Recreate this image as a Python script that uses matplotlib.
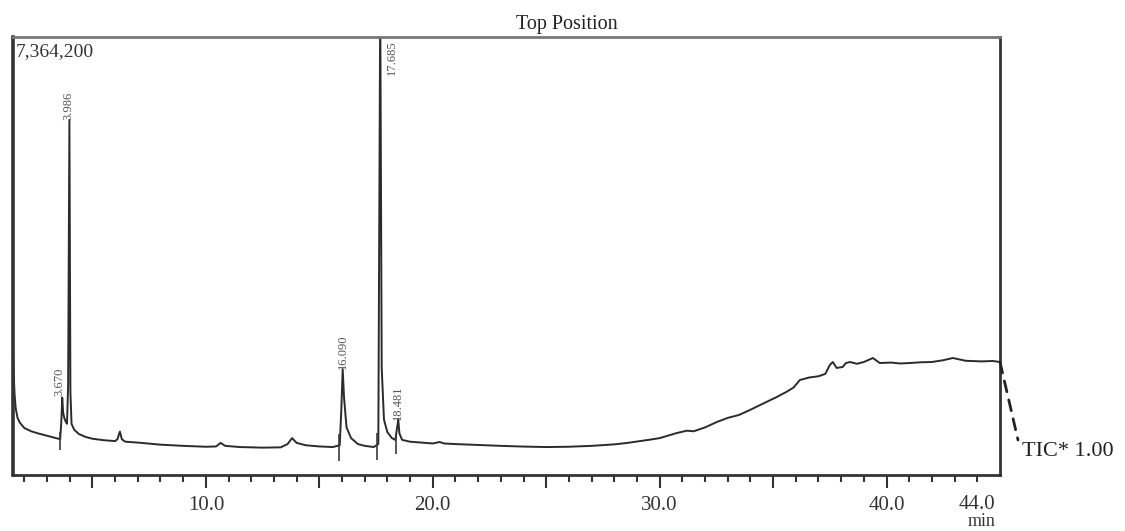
import matplotlib
matplotlib.use("Agg")
import matplotlib.pyplot as plt
from matplotlib.transforms import blended_transform_factory

plt.rcParams['font.family'] = ['Liberation Serif', 'DejaVu Serif']

# ---- data (intensity in kilo-counts) ----
times = [1.50, 1.53, 1.57, 1.62, 1.70, 1.80, 2.00, 2.30, 2.60, 3.00, 3.30, 3.50,
         3.58, 3.63, 3.67, 3.71, 3.76, 3.82, 3.88, 3.93, 3.986, 4.03, 4.08, 4.20,
         4.40, 4.70, 5.00, 5.50, 6.00, 6.10, 6.21, 6.30, 6.45, 7.00, 8.00, 9.00,
         10.00, 10.45, 10.65, 10.85, 11.50, 12.50, 13.30, 13.60, 13.80, 14.00, 14.40,
         15.00, 15.60, 15.90, 15.97, 16.03, 16.09, 16.20, 16.40, 16.70, 17.00, 17.40,
         17.60, 17.685, 17.75, 17.85, 18.00, 18.20, 18.35, 18.43, 18.48, 18.53, 18.65,
         19.00, 19.50, 20.00, 20.30, 20.50, 21.00, 22.00, 23.00, 24.00, 25.00, 26.00,
         27.00, 28.00, 28.55, 29.50, 30.00, 30.76, 31.20, 31.50, 32.00, 32.52, 33.00,
         33.50, 33.98, 34.50, 35.16, 35.60, 35.90, 36.18, 36.60, 37.00, 37.30, 37.50,
         37.63, 37.80, 38.07, 38.20, 38.38, 38.70, 39.00, 39.40, 39.70, 40.20, 40.60,
         41.03, 41.50, 42.00, 42.50, 42.92, 43.50, 44.20, 44.68, 45.00]
intensity = [2190, 1700, 1350, 1120, 960, 880, 790, 735, 700, 660, 630, 610,
             600, 900, 1300, 1050, 960, 900, 860, 1500, 5970, 1400, 860, 760,
             690, 640, 610, 585, 570, 600, 730, 600, 560, 545, 510, 490,
             475, 480, 540, 490, 470, 460, 465, 520, 620, 540, 500,
             480, 470, 500, 1100, 1780, 1300, 800, 620, 520, 490, 470,
             520, 8000, 1800, 930, 720, 620, 590, 800, 930, 700, 590,
             560, 545, 530, 555, 530, 520, 505, 490, 478, 470, 475,
             490, 515, 538, 590, 620, 706, 745, 735, 800, 891, 960,
             1010, 1093, 1190, 1311, 1400, 1470, 1597, 1640, 1660, 1700, 1850,
             1900, 1800, 1816, 1880, 1900, 1870, 1900, 1967, 1883, 1890, 1875,
             1883, 1895, 1900, 1930, 1967, 1920, 1910, 1917, 1900]

peak_times = [3.670, 3.986, 16.050, 17.685, 18.481]
peak_labels = ["3.670", "3.986", "16.090", "17.685", "18.481"]
peak_label_y = [1330, 5970, 1780, 7300, 930]
peak_label_dx = [-0.12, -0.06, 0.0, 0.50, 0.0]
peak_label_va = ["bottom", "bottom", "bottom", "top", "bottom"]

marker_times = [3.57, 15.85, 17.56, 18.38]
marker_bottom = [420, 230, 250, 360]
marker_top = [720, 690, 700, 680]

full_scale = 7364.2
x_min, x_max = 1.5, 45.0
major_ticks = [5, 10, 15, 20, 25, 30, 35, 40]
major_labels = ["", "10.0", "", "20.0", "", "30.0", "", "40.0"]
minor_ticks = list(range(2, 45))

fig = plt.figure(figsize=(11.25, 5.31), dpi=100)
ax = fig.add_axes([13/1125, 1-475/531, (1000-13)/1125, (475-37)/531])

ax.plot(times, intensity, color='#2b2b2b', lw=1.4, solid_joinstyle='round')
ax.vlines(marker_times, marker_bottom, marker_top, color='#3a3a3a', lw=1.2,
          clip_on=False)

for t, lab, yv, dx, va in zip(peak_times, peak_labels, peak_label_y,
                              peak_label_dx, peak_label_va):
    ax.text(t + dx, yv, lab, rotation=90, ha='center', va=va,
            fontsize=9, color='#555555')

ax.set_xlim(x_min, x_max)
ax.set_ylim(0, full_scale)
ax.set_yticks([])
ax.set_xticks(major_ticks)
ax.set_xticklabels(major_labels, fontsize=15, color='#333333')
ax.set_xticks(minor_ticks, minor=True)
ax.tick_params(axis='x', which='major', length=9, width=1.5, color='#333333', pad=6)
ax.tick_params(axis='x', which='minor', length=5, width=1.5, color='#333333')

for side, sp in ax.spines.items():
    sp.set_color('#333333')
    sp.set_linewidth(2.0)
ax.spines['left'].set_linewidth(2.6)
ax.spines['top'].set_color('#777777')

trans = blended_transform_factory(ax.transData, ax.transAxes)
ax.text(44.0, -0.045, "44.0", transform=trans, ha='center', va='top',
        fontsize=15, color='#333333')
ax.text(44.2, -0.086, "min", transform=trans, ha='center', va='top',
        fontsize=13, color='#333333')

ax.text(0.003, 0.985, "7,364,200", transform=ax.transAxes, ha='left', va='top',
        fontsize=14, color='#333333')

fig.text(567/1125, 1-24/531, "Top Position", ha='center', va='center',
         fontsize=14.5, color='#222222')

ax.annotate('', xy=(1018/1125, 1-440/531), xycoords='figure fraction',
            xytext=(times[-1], intensity[-1]), textcoords='data',
            arrowprops=dict(arrowstyle='-', linestyle=(0, (4, 3)), lw=2.0,
                            color='#222222', shrinkA=0, shrinkB=0))
fig.text(1022/1125, 1-452/531, "TIC* 1.00", ha='left', va='center',
         fontsize=16, color='#222222')

fig.savefig("out.png", dpi=100)
